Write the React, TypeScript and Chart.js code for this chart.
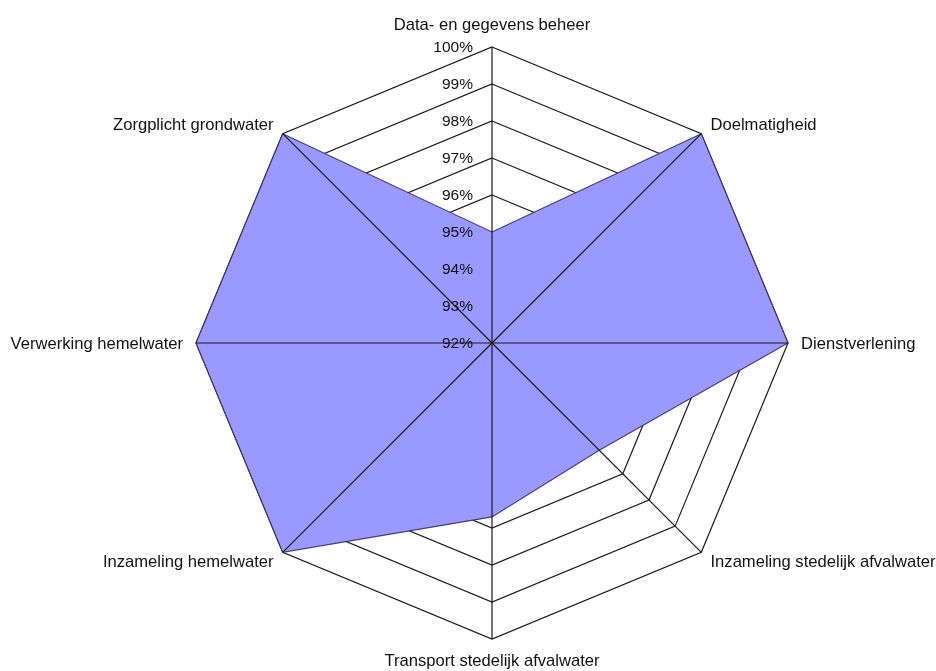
import React, { useEffect, useRef } from "react";
import { Chart, registerables } from "chart.js";

Chart.register(...registerables);

const categories = [
  "Data- en gegevens beheer",
  "Doelmatigheid",
  "Dienstverlening",
  "Inzameling stedelijk afvalwater",
  "Transport stedelijk afvalwater",
  "Inzameling hemelwater",
  "Verwerking hemelwater",
  "Zorgplicht grondwater",
];

const scores = [95, 100, 100, 96.1, 96.7, 100, 100, 100];

const tickValues = [92, 93, 94, 95, 96, 97, 98, 99, 100];
const tickLabels = ["92%", "93%", "94%", "95%", "96%", "97%", "98%", "99%", "100%"];

const FONT = "'Liberation Sans', Arial, sans-serif";

const overlayPlugin = {
  id: "overlay",
  afterDatasetsDraw(chart: any) {
    const scale = chart.scales.r;
    const ctx = chart.ctx as CanvasRenderingContext2D;
    const n = categories.length;
    const cx = scale.xCenter;
    const cy = scale.yCenter;
    ctx.save();
    // spokes on top of the fill
    ctx.strokeStyle = "#1a1a1a";
    ctx.lineWidth = 1.2;
    for (let i = 0; i < n; i++) {
      const p = scale.getPointPosition(i, scale.drawingArea);
      ctx.beginPath();
      ctx.moveTo(cx, cy);
      ctx.lineTo(p.x, p.y);
      ctx.stroke();
    }
    // tick labels
    ctx.fillStyle = "#111";
    ctx.font = `15.5px ${FONT}`;
    ctx.textAlign = "right";
    ctx.textBaseline = "middle";
    tickValues.forEach((v, i) => {
      const d = scale.getDistanceFromCenterForValue(v);
      ctx.fillText(tickLabels[i], cx - 19, cy - d + 1);
    });
    // point labels
    ctx.font = `16.6px ${FONT}`;
    ctx.fillStyle = "#111";
    for (let i = 0; i < n; i++) {
      const p = scale.getPointPosition(i, scale.drawingArea + 13);
      const dx = p.x - cx;
      const dy = p.y - cy;
      let align: CanvasTextAlign = "center";
      if (dx > 1) align = "left";
      else if (dx < -1) align = "right";
      let y = p.y + 1;
      if (Math.abs(dx) <= 1) {
        y = dy < 0 ? p.y - 9 : p.y + 9;
      }
      ctx.textAlign = align;
      ctx.textBaseline = "middle";
      ctx.fillText(categories[i], p.x, y);
    }
    ctx.restore();
  },
};

export default function App() {
  const ref = useRef<HTMLCanvasElement | null>(null);
  useEffect(() => {
    if (!ref.current) return;
    const chart = new Chart(ref.current, {
      type: "radar",
      data: {
        labels: categories,
        datasets: [
          {
            data: scores,
            backgroundColor: "#9999ff",
            borderColor: "rgba(50,50,100,0.9)",
            borderWidth: 1.1,
            pointRadius: 0,
            fill: true,
            tension: 0,
            clip: false,
          } as any,
        ],
      },
      options: {
        responsive: false,
        animation: false,
        devicePixelRatio: 1,
        layout: { padding: { left: 196, right: 148, top: 47, bottom: 32 } },
        plugins: {
          legend: { display: false },
          tooltip: { enabled: false },
        },
        scales: {
          r: {
            min: 92,
            max: 100,
            beginAtZero: false,
            ticks: { stepSize: 1, display: false },
            grid: { display: true, color: "#1a1a1a", lineWidth: 1.2, circular: false },
            angleLines: { display: false },
            pointLabels: { display: false },
          },
        },
      },
      plugins: [overlayPlugin],
    });
    return () => chart.destroy();
  }, []);
  return (
    <div style={{ position: "absolute", left: 0, top: 0, width: 936, height: 671, background: "#fff" }}>
      <canvas ref={ref} width={936} height={671} style={{ width: 936, height: 671, display: "block" }} />
    </div>
  );
}
